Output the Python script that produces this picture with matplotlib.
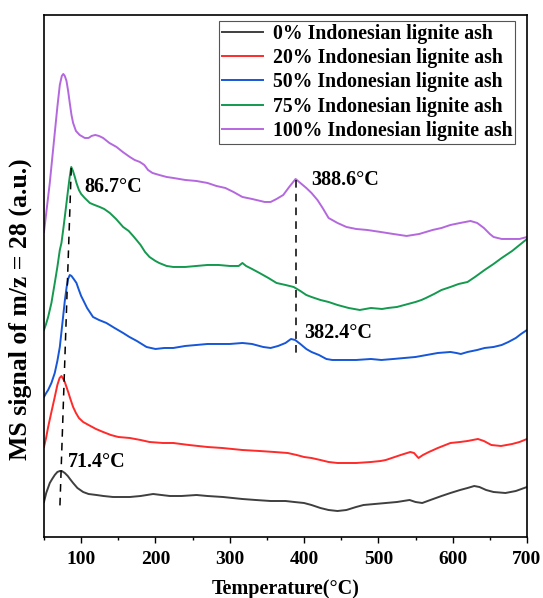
import matplotlib
matplotlib.use("Agg")
import matplotlib.pyplot as plt
from matplotlib.ticker import MultipleLocator

plt.rcParams['font.family'] = ['Liberation Serif', 'DejaVu Serif']
plt.rcParams['font.weight'] = 'bold'
plt.rcParams['axes.labelweight'] = 'bold'

# Temperature (C) and MS signal (a.u.) for each ash blend
t_0 = [50, 53, 57.8, 61, 64.5, 68, 71.4, 74, 78, 82, 85, 89.2, 95, 102.7, 110, 120.7, 130, 143, 155,
       165.5, 180, 196.9, 208, 219.4, 235, 255.3, 270, 291, 317, 335, 355, 375, 387, 400, 410, 422,
       433, 445, 457, 470, 480, 495, 510, 525, 542, 550, 559, 570, 585, 597, 610, 620, 629, 636, 645,
       655, 671, 685, 700]
s_0 = [35, 44, 54, 58, 62, 65, 66, 66, 64, 61, 58, 54, 49, 45, 43, 42, 41, 40, 40,
       40, 41, 43, 42, 41, 41, 42, 41, 40, 38, 37, 36, 36, 35, 34, 32, 29,
       27, 26, 27, 30, 32, 33, 34, 35, 37, 35, 34, 37, 41, 44, 47, 49, 51, 50, 47,
       45, 44, 46, 50]

t_20 = [50, 52.8, 55.6, 60, 64.5, 68, 71, 73.5, 76, 78, 80.3, 83, 86, 89.2, 93, 97, 102.7, 110, 120,
        129.6, 140, 150, 165.5, 180, 192, 210, 224, 245, 270, 290, 317, 340, 360, 378, 390, 400, 410,
        422, 433, 445, 457, 470, 490, 503, 510, 518, 530, 543, 548, 554, 560, 568, 580, 597, 610, 620,
        634, 642, 652, 665, 680, 690, 700]
s_20 = [90, 99, 110, 125, 140, 152, 159, 161, 158, 155, 150, 144, 137, 130, 124, 119, 115, 112, 108,
        105, 102, 100, 99, 97, 95, 94, 94, 92, 90, 89, 87, 86, 85, 84, 82, 80, 79,
        77, 75, 74, 74, 74, 75, 76, 77, 79, 82, 85, 84, 79, 82, 85, 89, 94, 95, 96,
        98, 96, 92, 91, 93, 95, 98]

t_50 = [50, 53, 55.6, 60, 64.5, 68, 71.3, 73.5, 75.7, 78, 80.5, 82.5, 84.7, 87, 90, 93.7, 97, 100,
        102.7, 108, 116, 124, 134, 145, 156.5, 165, 175, 188, 200, 212, 224, 240, 255, 270, 285, 300,
        317, 330, 345, 355, 365, 375, 382.4, 388, 395, 403, 410, 420, 430, 438, 450, 470, 490, 504,
        520, 535, 550, 565, 580, 597, 605, 611, 620, 633, 643, 655, 666, 675, 685, 692, 700]
s_50 = [140, 144, 147, 154, 164, 176, 190, 205, 220, 236, 250, 258, 262, 261, 258, 254, 247, 241,
        237, 229, 220, 217, 214, 209, 204, 200, 196, 190, 188, 189, 189, 191, 192, 193, 193, 193,
        194, 193, 190, 189, 191, 194, 198, 197, 193, 188, 185, 182, 178, 177, 177, 177, 178, 177,
        178, 179, 180, 182, 184, 185, 184, 183, 185, 187, 189, 190, 192, 195, 199, 203, 207]

t_75 = [50, 52.8, 55.6, 60, 64.5, 68, 71.3, 73.5, 76, 78, 80.3, 82.4, 84.6, 86.7, 89, 91.5, 93.7, 97,
        100, 104.8, 111.7, 118, 125, 131, 138.6, 147, 156.5, 164, 170, 174.5, 180, 186, 192, 200,
        205, 215, 224, 240, 255, 270, 285, 300, 312, 317, 322, 330, 340, 352, 363, 375, 386, 395,
        403, 410, 422, 433, 445, 460, 475, 490, 505, 513, 525, 540, 550, 558, 564, 575, 585, 597,
        608, 620, 630, 643, 655, 666, 680, 690, 700]
s_75 = [207, 213, 220, 234, 254, 270, 287, 294, 308, 320, 334, 347, 360, 370, 366, 360, 354, 347,
        343, 339, 334, 332, 330, 328, 324, 318, 310, 306, 301, 297, 292, 285, 280, 276,
        274, 271, 270, 270, 271, 272, 272, 271, 271, 274, 271, 268, 264, 259, 254, 252, 250, 246,
        242, 240, 237, 235, 232, 229, 227, 229, 228, 229, 230, 233, 235, 237, 239, 243, 247, 250,
        253, 255, 260, 267, 273, 279, 286, 292, 298]

t_100 = [50, 54, 57.8, 61, 64.5, 68, 71.3, 74, 76, 78, 80.3, 82.5, 84.7, 87, 89.2, 93, 98, 104.9,
         110, 114, 119, 124, 129.6, 138, 147.6, 156, 165.5, 172, 179, 185, 190, 196, 205, 215, 224,
         240, 255, 270, 282, 294, 305, 317, 330, 347, 355, 363, 372, 380, 388.6, 395, 403, 410, 418,
         425, 433, 445, 457, 470, 485, 503, 520, 538, 555, 573, 585, 597, 610, 624, 633, 642, 650,
         655, 666, 680, 690, 700]
s_100 = [305, 330, 354, 378, 404, 430, 452, 461, 463, 461, 456, 446, 434, 422, 414, 406, 402, 399,
         399, 401, 402, 401, 399, 394, 390, 385, 380, 377, 375, 372, 367, 364, 362, 360, 359,
         357, 356, 354, 351, 349, 345, 340, 338, 335, 335, 338, 342, 350, 358, 354, 349, 344, 337,
         329, 319, 314, 310, 308, 307, 305, 303, 301, 303, 307, 309, 312, 314, 316, 314, 309, 303,
         300, 298, 298, 298, 300]

labels = ["0% Indonesian lignite ash", "20% Indonesian lignite ash", "50% Indonesian lignite ash",
          "75% Indonesian lignite ash", "100% Indonesian lignite ash"]
colours = ["#3f3f3f", "#ff2a2a", "#1656d8", "#14994f", "#b468de"]

# peak markers: (T top, s top, T bottom, s bottom)
peak_left = [86.7, 369, 71.4, 30]
peak_right = [388.6, 357, 388.6, 184]

fig = plt.figure(figsize=(5.43, 5.98), dpi=100)
ax = fig.add_axes([0.081, 0.102, 0.8895, 0.873])

series = [(t_0, s_0), (t_20, s_20), (t_50, s_50), (t_75, s_75), (t_100, s_100)]
for (t, s), lab, c in zip(series, labels, colours):
    ax.plot(t, s, color=c, linewidth=1.4, label=lab)

ax.plot([peak_left[0], peak_left[2]], [peak_left[1], peak_left[3]], color="k",
        linestyle=(0, (5, 4)), linewidth=1.1)
ax.plot([peak_right[0], peak_right[2]], [peak_right[1], peak_right[3]], color="k",
        linestyle=(0, (5, 4)), linewidth=1.1)

ax.text(105, 350, "86.7°C", fontsize=14.5, va="center")
ax.text(409, 357, "388.6°C", fontsize=14.5, va="center")
ax.text(400, 204, "382.4°C", fontsize=14.5, va="center")
ax.text(82.5, 75, "71.4°C", fontsize=14.5, va="center")

ax.set_xlim(50, 700)
ax.set_ylim(0, 522)
ax.set_yticks([])
ax.xaxis.set_major_locator(MultipleLocator(100))
ax.xaxis.set_minor_locator(MultipleLocator(50))
ax.tick_params(axis="x", which="major", direction="out", length=4.3, width=1.0, labelsize=14, pad=6)
ax.tick_params(axis="x", which="minor", direction="out", length=2.5, width=1.0)
for sp in ax.spines.values():
    sp.set_linewidth(1.2)

ax.set_xlabel("Temperature(°C)", fontsize=14.5, labelpad=8)
ax.set_ylabel("MS signal of m/z = 28 (a.u.)", fontsize=18.5)
ax.yaxis.set_label_coords(-0.025, 0.437)

leg = ax.legend(loc="upper right", bbox_to_anchor=(0.976, 0.989), fontsize=14.2, frameon=True,
                fancybox=False, framealpha=1, edgecolor="#555555", handlelength=2.1,
                handletextpad=0.5, borderpad=0.15, labelspacing=0.22, borderaxespad=0)
leg.get_frame().set_linewidth(0.8)

fig.savefig("out.png", dpi=100)
